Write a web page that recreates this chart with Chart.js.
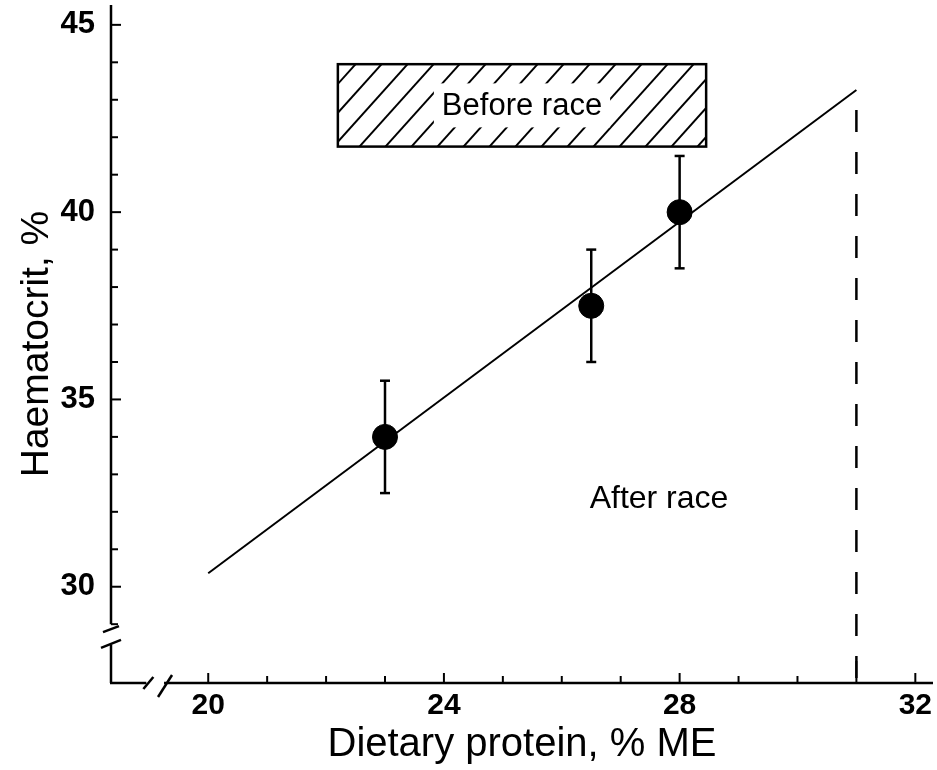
<!DOCTYPE html>
<html>
<head>
<meta charset="utf-8">
<script src="https://cdn.jsdelivr.net/npm/chart.js@4.4.0/dist/chart.umd.min.js"></script>
<style>
body { margin: 0; background: #fff; }
#wrap { width: 937px; height: 770px; }
</style>
</head>
<body>
<div id="wrap"><canvas id="chart"></canvas></div>
<script>
// group means, dietary protein (% ME) vs haematocrit (%)
const protein = [23, 26.5, 28];
const haematocrit = [34.0, 37.5, 40.0];
const errorBar = [1.5, 1.5, 1.5];

// fitted line, "after race"
const fitProtein = [20, 31];
const fitHaematocrit = [30.36, 43.26];

const xTicks = [20, 21, 22, 23, 24, 25, 26, 27, 28, 29, 30, 31, 32];
const xTickLabels = [20, 24, 28, 32];
const yTicks = [29, 30, 31, 32, 33, 34, 35, 36, 37, 38, 39, 40, 41, 42, 43, 44, 45];
const yTickLabels = [30, 35, 40, 45];

// hatched "before race" range
const beforeProtein = [22.2, 28.45];
const beforeHaematocrit = [41.75, 43.95];
const afterRace = [27.65, 32.35];

const FONT = "'Liberation Sans', Arial, sans-serif";

function line(ctx, x0, y0, x1, y1)
{
	ctx.beginPath();
	ctx.moveTo(x0, y0);
	ctx.lineTo(x1, y1);
	ctx.stroke();
}

const decor = {
	id: 'decor',
	beforeDatasetsDraw(chart)
	{
		const {ctx, chartArea: a, scales: {x, y}} = chart;
		ctx.save();
		ctx.strokeStyle = '#000';
		ctx.fillStyle = '#000';
		ctx.lineWidth = 2.5;

		// axes, both broken near the origin
		const yb0 = y.getPixelForValue(29), yb1 = y.getPixelForValue(28.45);
		const xb0 = x.getPixelForValue(18.95), xb1 = x.getPixelForValue(19.25);
		line(ctx, a.left, a.top, a.left, yb0);
		line(ctx, a.left, yb1, a.left, a.bottom);
		line(ctx, a.left - 1, a.bottom, xb0, a.bottom);
		line(ctx, xb1, a.bottom, a.right, a.bottom);
		line(ctx, a.left - 8, yb0 + 8, a.left + 8, yb0 + 2);
		line(ctx, a.left - 10, yb1 + 3, a.left + 10, yb1 - 5);
		line(ctx, xb0 - 3, a.bottom + 6, xb0 + 7, a.bottom - 6);
		line(ctx, xb1 - 6, a.bottom + 14, xb1 + 8, a.bottom - 8);

		// tick marks, pointing into the plot, and their labels
		ctx.lineWidth = 2;
		ctx.font = 'bold 31px ' + FONT;
		ctx.textAlign = 'right';
		ctx.textBaseline = 'middle';
		yTicks.forEach(v => {
			const py = y.getPixelForValue(v);
			const major = yTickLabels.includes(v);
			line(ctx, a.left, py, a.left + (major ? 10 : 7), py);
			if (major)
				ctx.fillText(String(v), a.left - 16, py);
		});
		ctx.font = 'bold 30px ' + FONT;
		ctx.textAlign = 'center';
		ctx.textBaseline = 'top';
		xTicks.forEach(v => {
			const px = x.getPixelForValue(v);
			const major = xTickLabels.includes(v);
			line(ctx, px, a.bottom, px, a.bottom - (v === 31 ? 22 : major ? 10 : 7));
			if (major)
				ctx.fillText(String(v), px, a.bottom + 8);
		});

		// error bars
		ctx.lineWidth = 2.5;
		protein.forEach((p, i) => {
			const px = x.getPixelForValue(p);
			const top = y.getPixelForValue(haematocrit[i] + errorBar[i]);
			const bot = y.getPixelForValue(haematocrit[i] - errorBar[i]);
			line(ctx, px, top, px, bot);
			line(ctx, px - 5, top, px + 5, top);
			line(ctx, px - 5, bot, px + 5, bot);
		});

		// hatched box
		const bx0 = x.getPixelForValue(beforeProtein[0]), bx1 = x.getPixelForValue(beforeProtein[1]);
		const by0 = y.getPixelForValue(beforeHaematocrit[1]), by1 = y.getPixelForValue(beforeHaematocrit[0]);
		const h = by1 - by0;
		ctx.save();
		ctx.beginPath();
		ctx.rect(bx0, by0, bx1 - bx0, h);
		ctx.clip();
		ctx.lineWidth = 2;
		for (let s = bx0 - h; s < bx1 + h; s += 26)
			line(ctx, s, by1, s + h * 0.9, by0);
		ctx.font = '31px ' + FONT;
		const tw = ctx.measureText('Before race').width;
		const cx = (bx0 + bx1) / 2, cy = (by0 + by1) / 2;
		ctx.fillStyle = '#fff';
		ctx.fillRect(cx - tw / 2 - 8, cy - 22, tw + 16, 44);
		ctx.restore();
		ctx.lineWidth = 2.5;
		ctx.strokeRect(bx0, by0, bx1 - bx0, h);
		ctx.font = '31px ' + FONT;
		ctx.textAlign = 'center';
		ctx.textBaseline = 'middle';
		ctx.fillText('Before race', cx, cy + 1);

		ctx.font = '32px ' + FONT;
		ctx.fillText('After race', x.getPixelForValue(afterRace[0]), y.getPixelForValue(afterRace[1]));
		ctx.restore();
	}
};

new Chart(document.getElementById('chart'), {
	type: 'scatter',
	data: {
		datasets: [
			{
				data: fitProtein.map((p, i) => ({x: p, y: fitHaematocrit[i]})),
				showLine: true,
				borderColor: '#000',
				borderWidth: 2,
				pointRadius: 0
			},
			{
				data: [{x: fitProtein[1], y: fitHaematocrit[1]}, {x: fitProtein[1], y: 27.43}],
				showLine: true,
				borderColor: '#000',
				borderWidth: 2.5,
				borderDash: [22, 20],
				borderDashOffset: 22,
				pointRadius: 0
			},
			{
				data: protein.map((p, i) => ({x: p, y: haematocrit[i]})),
				backgroundColor: '#000',
				borderColor: '#000',
				pointRadius: 12.5,
				pointHoverRadius: 12.5
			}
		]
	},
	options: {
		responsive: true,
		maintainAspectRatio: false,
		animation: false,
		layout: {autoPadding: false, padding: {top: 5, right: 4, left: 0, bottom: 0}},
		plugins: {legend: {display: false}, tooltip: {enabled: false}},
		scales: {
			x: {
				type: 'linear',
				min: 18.35,
				max: 32.3,
				border: {display: false},
				grid: {display: false, drawTicks: false},
				afterFit: s => { s.height = 87; },
				ticks: {display: false},
				title: {
					display: true,
					text: 'Dietary protein, % ME',
					color: '#000',
					font: {family: FONT, size: 40},
					padding: {top: 0, bottom: 1}
				}
			},
			y: {
				type: 'linear',
				min: 27.43,
				max: 45.53,
				border: {display: false},
				grid: {display: false, drawTicks: false},
				afterFit: s => { s.width = 111; },
				ticks: {display: false},
				title: {
					display: true,
					text: 'Haematocrit, %',
					color: '#000',
					font: {family: FONT, size: 39},
					padding: {top: 14, bottom: 0}
				}
			}
		}
	},
	plugins: [decor]
});
</script>
</body>
</html>
